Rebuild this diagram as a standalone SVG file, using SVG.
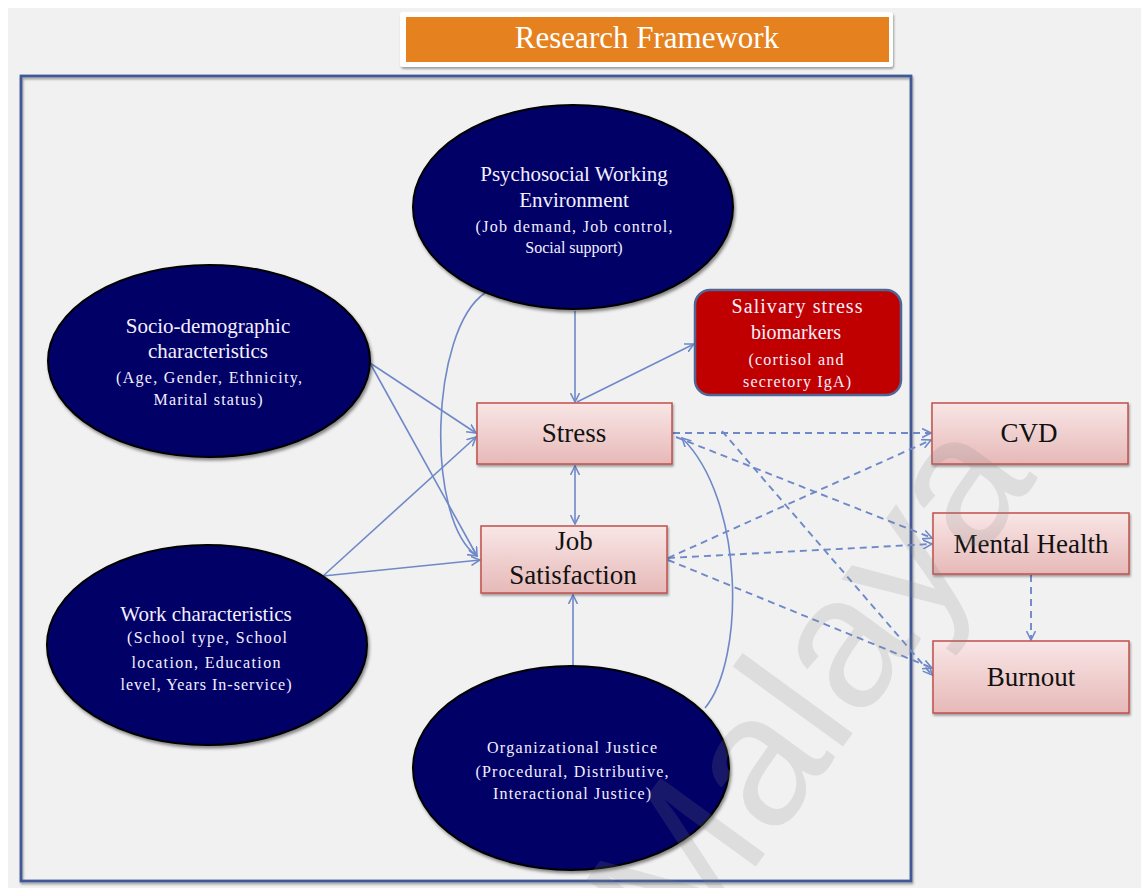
<svg xmlns="http://www.w3.org/2000/svg" width="1141" height="888" viewBox="0 0 1141 888">
  <defs>
    <style>
      .oval { fill: #000066; stroke: #000; stroke-width: 2; filter: url(#shadow); }
      .oval-t { font-family: "Liberation Serif", "Times New Roman", serif; fill: #f4f0ff; text-anchor: middle; }
      .big { font-size: 21px; }
      .small { font-size: 16px; }
      .box { fill: url(#pink); stroke: #c0504d; stroke-width: 1.5; filter: url(#shadow2); }
      .box-t { font-family: "Liberation Serif", "Times New Roman", serif; font-size: 27px; fill: #111; text-anchor: middle; }
      .link { fill: none; stroke: #6f89c8; stroke-width: 1.6; }
      .dash { fill: none; stroke: #6f89c8; stroke-width: 1.9; stroke-dasharray: 7 5; }
    </style>
    <linearGradient id="pink" x1="0" y1="0" x2="0" y2="1">
      <stop offset="0" stop-color="#f9e6e6"/>
      <stop offset="1" stop-color="#e6b9b8"/>
    </linearGradient>
    <filter id="shadow" x="-10%" y="-10%" width="125%" height="125%">
      <feDropShadow dx="1.5" dy="2.5" stdDeviation="1.5" flood-color="#000" flood-opacity="0.45"/>
    </filter>
    <filter id="shadow2" x="-10%" y="-10%" width="125%" height="130%">
      <feDropShadow dx="1" dy="2" stdDeviation="1.2" flood-color="#000" flood-opacity="0.35"/>
    </filter>
    <marker id="arrow" viewBox="0 0 10 10" refX="9" refY="5" markerWidth="10" markerHeight="10" markerUnits="userSpaceOnUse" orient="auto-start-reverse">
      <path d="M0,0.5 L9,5 L0,9.5" fill="none" stroke="#6f89c8" stroke-width="1.6"/>
    </marker>
  </defs>

  <!-- page -->
  <rect x="0" y="0" width="1141" height="888" fill="#ffffff"/>
  <rect x="8" y="8" width="1133" height="880" fill="#f1f1f1"/>

  <!-- title banner -->
  <g id="title">
    <rect x="400" y="12" width="493" height="55" rx="3" fill="#ffffff" filter="url(#shadow2)"/>
    <rect x="406" y="17" width="483" height="45" fill="#e5821f"/>
    <text x="647" y="48" font-family="Liberation Serif, Times New Roman, serif" font-size="31" fill="#ffffff" text-anchor="middle">Research Framework</text>
  </g>

  <!-- outer frame -->
  <rect id="frame" x="21" y="76" width="890" height="805" fill="none" stroke="#3f5896" stroke-width="2.8" filter="url(#shadow2)"/>

  <!-- connectors -->
  <g id="connectors">
    <line class="link" x1="575" y1="311" x2="575" y2="402" marker-end="url(#arrow)"/>
    <line class="link" x1="577" y1="402" x2="694" y2="344" marker-end="url(#arrow)"/>
    <line class="link" x1="575" y1="466" x2="575" y2="524" marker-start="url(#arrow)" marker-end="url(#arrow)"/>
    <line class="link" x1="573" y1="667" x2="573" y2="595" marker-end="url(#arrow)"/>
    <line class="link" x1="370" y1="363" x2="476" y2="433" marker-end="url(#arrow)"/>
    <line class="link" x1="370" y1="363" x2="477" y2="556" marker-end="url(#arrow)"/>
    <line class="link" x1="323" y1="576" x2="476" y2="437" marker-end="url(#arrow)"/>
    <line class="link" x1="323" y1="576" x2="480" y2="560" marker-end="url(#arrow)"/>
    <path class="link" d="M485,293 C430,330 425,520 477,556" marker-end="url(#arrow)"/>
    <path class="link" d="M705,708 C745,660 745,500 682,438" marker-end="url(#arrow)"/>

    <line class="dash" x1="673" y1="433" x2="931" y2="433" marker-end="url(#arrow)"/>
    <line class="dash" x1="676" y1="437" x2="932" y2="538" marker-end="url(#arrow)"/>
    <line class="dash" x1="722" y1="431" x2="932" y2="675" marker-end="url(#arrow)"/>
    <line class="dash" x1="668" y1="558" x2="931" y2="440" marker-end="url(#arrow)"/>
    <line class="dash" x1="668" y1="558" x2="932" y2="544" marker-end="url(#arrow)"/>
    <line class="dash" x1="668" y1="560" x2="932" y2="668" marker-end="url(#arrow)"/>
    <line class="dash" x1="1031" y1="575" x2="1031" y2="640" marker-end="url(#arrow)"/>
  </g>

  <!-- ovals -->
  <g id="psychosocial">
    <ellipse class="oval" cx="573" cy="207" rx="160" ry="102"/>
    <text class="oval-t big" x="574" y="181">Psychosocial Working</text>
    <text class="oval-t big" x="574" y="207">Environment</text>
    <text class="oval-t small" x="574" y="232" textLength="197">(Job demand, Job control,</text>
    <text class="oval-t small" x="574" y="253">Social support)</text>
  </g>

  <g id="socio">
    <ellipse class="oval" cx="209" cy="361" rx="161" ry="96"/>
    <text class="oval-t big" x="208" y="333">Socio-demographic</text>
    <text class="oval-t big" x="208" y="358">characteristics</text>
    <text class="oval-t small" x="209" y="383" textLength="186">(Age, Gender, Ethnicity,</text>
    <text class="oval-t small" x="208" y="405" textLength="109">Marital status)</text>
  </g>

  <g id="work">
    <ellipse class="oval" cx="207" cy="645" rx="160" ry="100"/>
    <text class="oval-t big" x="206" y="621">Work characteristics</text>
    <text class="oval-t small" x="207" y="643" textLength="160">(School type, School</text>
    <text class="oval-t small" x="206" y="668" textLength="149">location, Education</text>
    <text class="oval-t small" x="206" y="690" textLength="171">level, Years In-service)</text>
  </g>

  <g id="justice">
    <ellipse class="oval" cx="571" cy="768" rx="158" ry="102"/>
    <text class="oval-t small" x="572" y="753" font-size="15" textLength="170">Organizational Justice</text>
    <text class="oval-t small" x="572" y="777" textLength="193">(Procedural, Distributive,</text>
    <text class="oval-t small" x="572" y="799" textLength="158">Interactional Justice)</text>
  </g>

  <!-- biomarker box -->
  <g id="biomarkers">
    <rect x="695" y="290" width="206" height="105" rx="15" fill="#c00000" stroke="#4f6596" stroke-width="2.5"/>
    <text class="oval-t" x="797" y="313" font-size="20" textLength="131">Salivary stress</text>
    <text class="oval-t" x="796" y="339" font-size="20">biomarkers</text>
    <text class="oval-t small" x="796" y="365" textLength="95">(cortisol and</text>
    <text class="oval-t small" x="797" y="387" textLength="108">secretory IgA)</text>
  </g>

  <!-- outcome boxes -->
  <g id="stress">
    <rect class="box" x="477" y="403" width="195" height="61"/>
    <text class="box-t" x="574" y="442">Stress</text>
  </g>
  <g id="job-satisfaction">
    <rect class="box" x="481" y="526" width="186" height="67"/>
    <text class="box-t" x="574" y="550">Job</text>
    <text class="box-t" x="573" y="584">Satisfaction</text>
  </g>
  <g id="cvd">
    <rect class="box" x="932" y="403" width="196" height="61"/>
    <text class="box-t" x="1029" y="442">CVD</text>
  </g>
  <g id="mental-health">
    <rect class="box" x="933" y="513" width="196" height="61"/>
    <text class="box-t" x="1031" y="553">Mental Health</text>
  </g>
  <g id="burnout">
    <rect class="box" x="933" y="641" width="196" height="72"/>
    <text class="box-t" x="1031" y="686">Burnout</text>
  </g>

  <!-- faint watermark -->
  <text x="682" y="968" transform="rotate(-54 682 968)" font-family="Liberation Sans, Arial, sans-serif" font-size="188" fill="#838383" fill-opacity="0.18">Malaya</text>
</svg>
